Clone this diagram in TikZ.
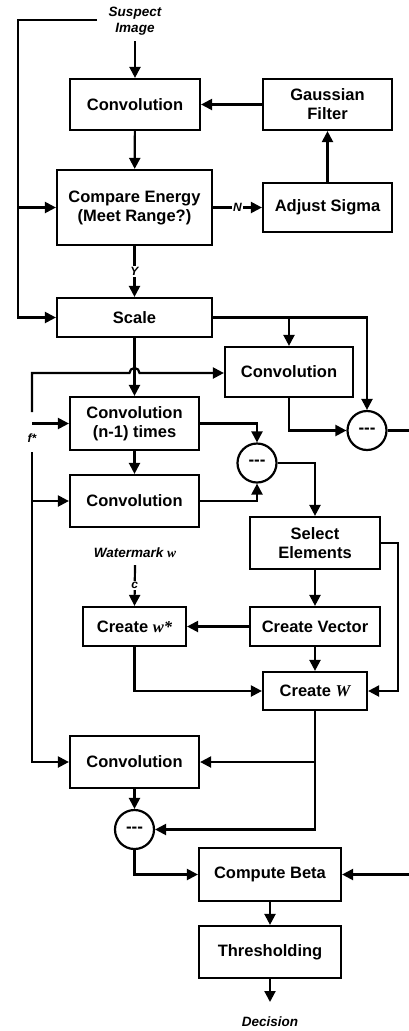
\documentclass[tikz,border=0pt]{standalone}
\usepackage{fontspec}
\setmainfont{Liberation Sans}
\newfontfamily\varfont{Liberation Serif}
\usetikzlibrary{arrows.meta}

\begin{document}
\begin{tikzpicture}[x=1pt,y=-1pt,
  line width=2.2pt,
  >={Triangle[length=11pt,width=11pt]},
  blk/.style 2 args={draw, line width=2.2pt, inner sep=0pt, align=center,
    minimum width=#1pt, minimum height=#2pt,
    font=\fontsize{16.5}{19}\selectfont\bfseries},
  sub/.style={circle, draw, line width=2.2pt, minimum size=39pt, inner sep=0pt,
    font=\fontsize{17}{17}\selectfont\bfseries},
  lbl/.style={font=\fontsize{13.5}{16}\selectfont\bfseries\itshape, align=center, inner sep=1pt},
  tag/.style={font=\fontsize{12}{12}\selectfont\bfseries\itshape, fill=white, inner sep=1.5pt},
]
\useasboundingbox (0,0) rectangle (409,1031);

% blocks
\node[blk={130}{51}]  (conv1)   at (135,104.5) {Convolution};
\node[blk={129}{51}]  (gauss)   at (327.5,104.5) {Gaussian\\Filter};
\node[blk={155}{75}]  (compare) at (134.5,207.5) {Compare Energy\\(Meet Range?)};
\node[blk={129}{49}]  (adjust)  at (327.5,207.5) {Adjust Sigma};
\node[blk={155}{39}]  (scale)   at (134.5,317.5) {Scale};
\node[blk={128}{50}]  (conv2)   at (289,372) {Convolution};
\node[blk={129}{53}]  (convn)   at (134.5,423.5) {Convolution\\(n-1) times};
\node[blk={129}{52}]  (conv3)   at (134.5,501) {Convolution};
\node[blk={130}{52}]  (select)  at (315,543) {Select\\Elements};
\node[blk={103}{39}]  (createws) at (134.5,626.5) {Create {\varfont\bfseries\itshape w*}};
\node[blk={130}{39}]  (createv) at (315,626.5) {Create Vector};
\node[blk={104}{38}]  (createW) at (315,691) {Create {\varfont\itshape W}};
\node[blk={129}{52}]  (conv4)   at (134.5,762) {Convolution};
\node[blk={142}{53}]  (beta)    at (270,874.5) {Compute Beta};
\node[blk={142}{52}]  (thresh)  at (270,952) {Thresholding};

% subtraction nodes
\node[sub] (sub1) at (367,430.5) {-{}-{}-};
\node[sub] (sub2) at (257,463) {-{}-{}-};
\node[sub] (sub3) at (134.5,829.5) {-{}-{}-};

% labels
\node[lbl] (suspect) at (135,21) {Suspect\\Image};
\node[lbl] (wm) at (135,553) {Watermark {\varfont w}};
\node[lbl] (decision) at (270,1022) {Decision};
\node[font=\fontsize{12}{12}\selectfont\bfseries\itshape, inner sep=0pt] (fstar) at (32,438) {f*};

% free ends
\coordinate (topend) at (97,20);
\coordinate (fup) at (32,412);
\coordinate (fmid) at (32,423.5);
\coordinate (flow) at (32,452);
\coordinate (rout) at (409,430.5);
\coordinate (rin) at (409,874.5);
\coordinate (out) at (270,1002);

% estimation loop
\draw[->] (suspect.south) ++(0,4) -- (conv1.north);
\draw[->] (gauss) -- (conv1);
\draw[->] (conv1) -- (compare);
\draw[->] (compare) -- node[tag]{N} (adjust);
\draw[->] (adjust) -- (gauss);
\draw[->] (compare) -- node[tag]{Y} (scale);
\draw[->] (topend) -- (18,20) -- (18,317.5) -- (scale.west);
\draw[->] (18,207.5) -- (compare.west);

% scaled image branches
\draw[->] (scale.east) -- (367,317.5) -- (sub1.north);
\draw[->] (289,317.5) -- (conv2.north);
\draw[->] (conv2.south) -- (289,430.5) -- (sub1.west);
\draw (sub1.east) -- (rout);
\draw[->] (scale) -- (convn);

% f* input
\draw[->] (fup) -- (32,373) -- (129.5,373) arc[start angle=180, end angle=360, radius=5] -- (conv2.west |- 0,373);
\draw[->] (fmid) -- (convn.west);
\draw[->] (flow) -- (32,762) -- (conv4.west);
\draw[->] (32,501) -- (conv3.west);

% residual difference
\draw[->] (convn) -- (conv3);
\draw[->] (convn.east) -- (257,423.5) -- (sub2.north);
\draw[->] (conv3.east) -- (257,501) -- (sub2.south);
\draw[->] (sub2.east) -- (315,463) -- (select.north);

% watermark vectors
\draw[->] (select) -- (createv);
\draw[->] (select.east) -- (398,543) -- (398,691) -- (createW.east);
\draw[->] (createv) -- (createws);
\draw[->] (createv) -- (createW);
\draw[->] (createws.south) -- (134.5,691) -- (createW.west);
\draw[->] (wm.south) ++(0,5) -- node[tag]{c} (createws.north);

% correlation and decision
\draw[->] (createW.south) -- (315,829.5) -- (sub3.east);
\draw[->] (315,762) -- (conv4.east);
\draw[->] (conv4) -- (sub3);
\draw[->] (sub3.south) -- (134.5,874.5) -- (beta.west);
\draw[->] (rin) -- (beta.east);
\draw[->] (beta) -- (thresh);
\draw[->] (thresh) -- (out);
\end{tikzpicture}
\end{document}
